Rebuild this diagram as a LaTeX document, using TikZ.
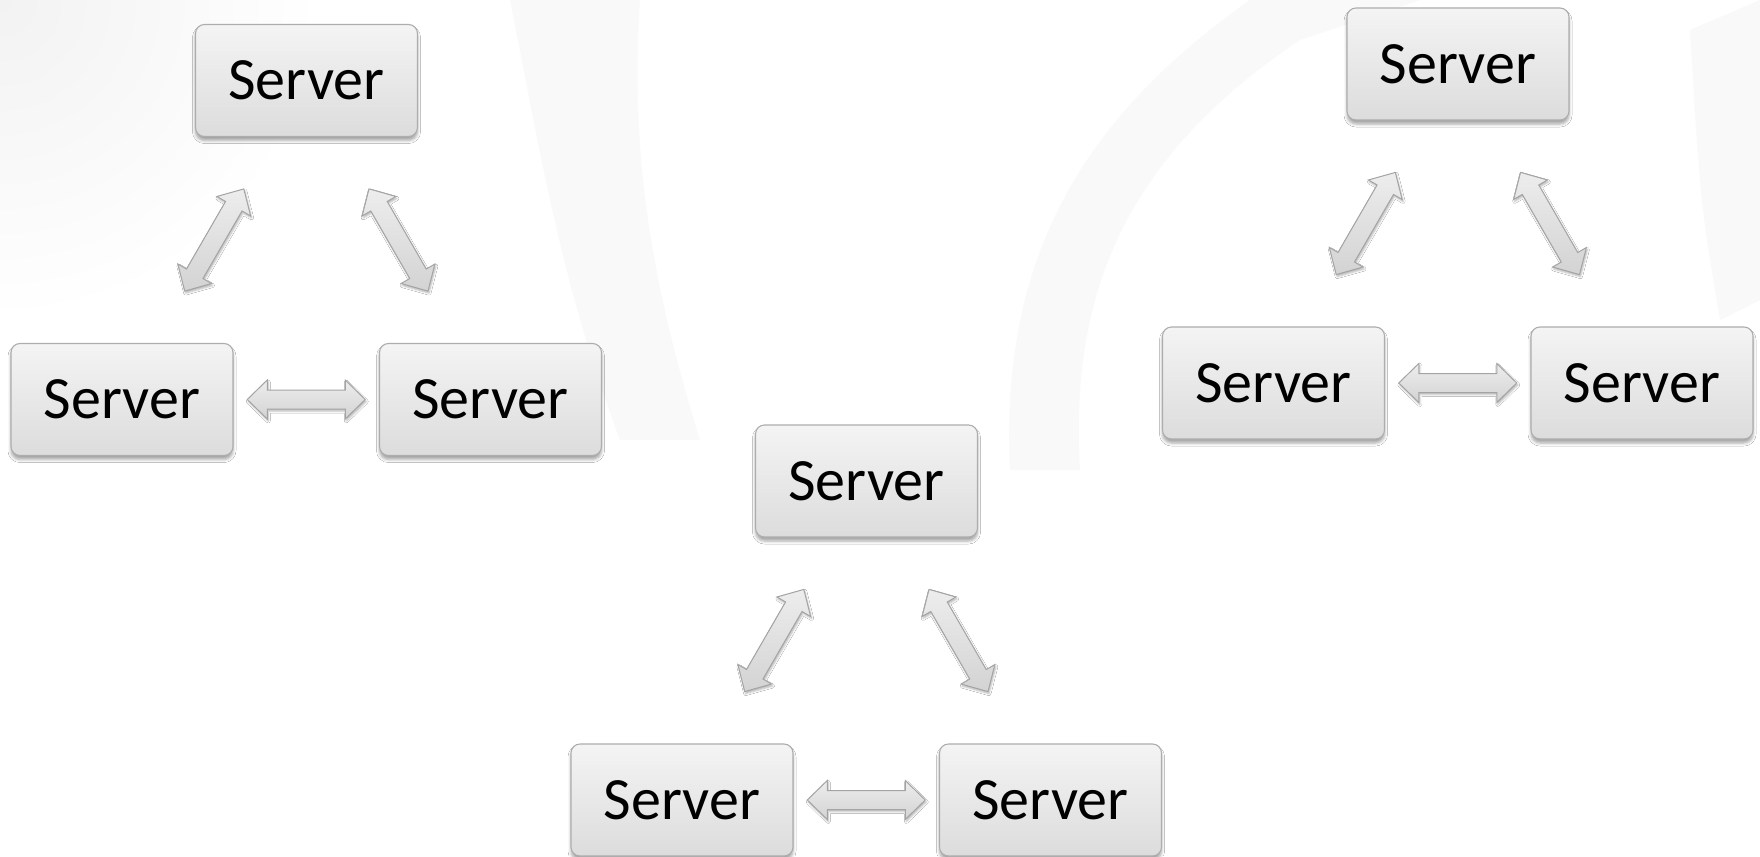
\documentclass[tikz,border=0pt]{standalone}
\usepackage{fontspec}
\setmainfont{Carlito}
\usetikzlibrary{calc,shadows,shadows.blur}

\definecolor{boxtop}{HTML}{F4F4F4}
\definecolor{boxbot}{HTML}{DCDCDC}
\definecolor{boxline}{HTML}{ADADAD}
\definecolor{arrtop}{HTML}{EDEDED}
\definecolor{arrbot}{HTML}{D3D3D3}
\definecolor{arrline}{HTML}{A4A4A4}
\definecolor{wmark}{HTML}{F9F9F9}
\definecolor{wcorner}{HTML}{F2F2F2}

\tikzset{
  srvbox/.style={rounded corners=9pt, draw=boxline, line width=1.1pt,
    top color=boxtop, bottom color=boxbot,
    minimum width=222pt, minimum height=112pt, inner sep=0pt,
    font=\fontsize{60}{72}\selectfont,
    blur shadow={shadow xshift=0pt, shadow yshift=-4pt,
      shadow blur radius=3pt, shadow opacity=35}},
  linkarrow/.style={draw=arrline, line width=1pt, line join=miter,
    top color=arrtop, bottom color=arrbot,
    blur shadow={shadow xshift=1pt, shadow yshift=-2pt,
      shadow blur radius=2pt, shadow opacity=30}}
}

% double block arrow centred between two server boxes
\newcommand\srvlink[3]{%
  \coordinate (#3m) at ($(#1.center)!0.5!(#2.center)$);
  \coordinate (#3a) at ($(#3m)!59pt!(#1.center)$);
  \coordinate (#3b) at ($(#3m)!59pt!(#2.center)$);
  \coordinate (#3p) at ($(#3a)!20pt!(#3b)$);
  \coordinate (#3q) at ($(#3b)!20pt!(#3a)$);
  \path[linkarrow] (#3a)
    -- ($(#3p)!19.5pt!90:(#3b)$) -- ($(#3p)!9.5pt!90:(#3b)$)
    -- ($(#3q)!9.5pt!-90:(#3a)$) -- ($(#3q)!19.5pt!-90:(#3a)$)
    -- (#3b)
    -- ($(#3q)!19.5pt!90:(#3a)$) -- ($(#3q)!9.5pt!90:(#3a)$)
    -- ($(#3p)!9.5pt!-90:(#3b)$) -- ($(#3p)!19.5pt!-90:(#3b)$)
    -- cycle;
}

% a triangle of three servers, shifted by (#2,#3)
\newcommand\srvcluster[3]{%
  \node[srvbox] (#1t) at ({#2+306.5},{#3+80.5}) {Server};
  \node[srvbox] (#1l) at ({#2+122},{#3+399.5}) {Server};
  \node[srvbox] (#1r) at ({#2+490.5},{#3+399.5}) {Server};
  \srvlink{#1t}{#1l}{#1tl}
  \srvlink{#1t}{#1r}{#1tr}
  \srvlink{#1l}{#1r}{#1lr}
}

\begin{document}
\begin{tikzpicture}[x=1pt,y=-1pt]
  \useasboundingbox (0,0) rectangle (1760,856);
  \fill[white] (0,0) rectangle (1760,856);
  % faint background watermark
  \begin{scope}
    \clip (0,0) rectangle (1760,856);
    \shade[inner color=wcorner, outer color=white] (0,0) circle[radius=320];
    \fill[wmark] (510,0) .. controls (540,150) and (560,280) .. (620,440)
      -- (700,440) .. controls (650,280) and (630,150) .. (640,0) -- cycle;
    \fill[wmark] (1250,0) .. controls (1080,120) and (1000,260) .. (1010,470)
      -- (1080,470) .. controls (1070,300) and (1120,160) .. (1300,40)
      -- (1420,0) -- cycle;
    \fill[wmark] (1690,30) -- (1760,0) -- (1760,300) -- (1720,320)
      .. controls (1700,200) .. (1690,30) -- cycle;
  \end{scope}

  \srvcluster{a}{0}{0}
  \srvcluster{b}{560}{400.5}
  \srvcluster{c}{1151.5}{-16.5}
\end{tikzpicture}
\end{document}
